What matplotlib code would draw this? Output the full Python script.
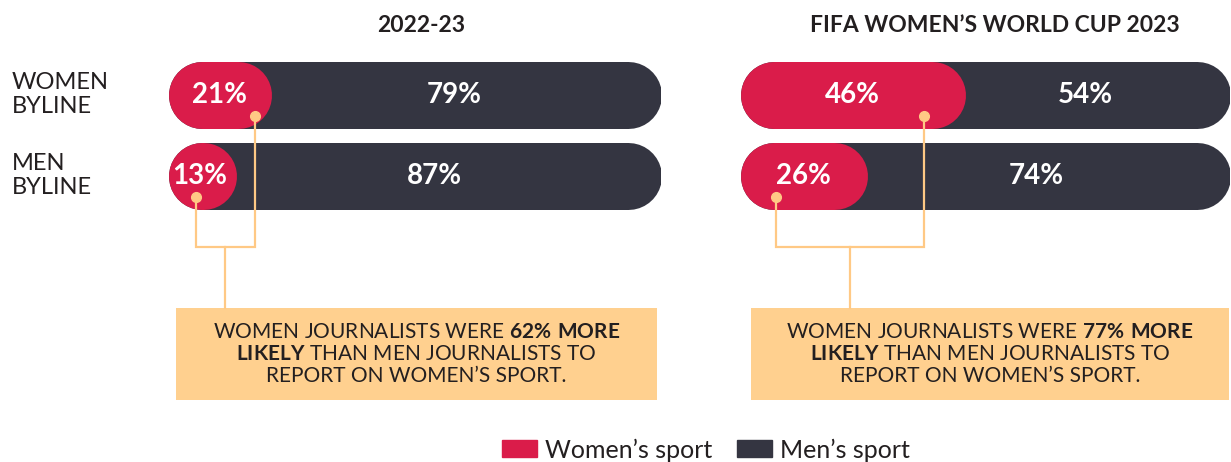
import numpy as np
import matplotlib
matplotlib.use("Agg")
import matplotlib.pyplot as plt
import matplotlib.transforms as mtransforms
from matplotlib.patches import Rectangle, Patch

plt.rcParams['font.family'] = ['Lato', 'DejaVu Sans']
plt.rcParams['mathtext.fontset'] = 'custom'
plt.rcParams['mathtext.bf'] = 'Lato:bold'
plt.rcParams['mathtext.rm'] = 'Lato'
plt.rcParams['path.simplify'] = False

# data
rows = ["WOMEN\nBYLINE", "MEN\nBYLINE"]
panels = ["2022-23", "FIFA WOMEN\u2019S WORLD CUP 2023"]
womens_sport = [[21, 13], [46, 26]]
mens_sport = [[79, 87], [54, 74]]
notes = [
    "WOMEN JOURNALISTS WERE $\\bf{62\\%\\ MORE}$\n$\\bf{LIKELY}$ THAN MEN JOURNALISTS TO\nREPORT ON WOMEN\u2019S SPORT.",
    "WOMEN JOURNALISTS WERE $\\bf{77\\%\\ MORE}$\n$\\bf{LIKELY}$ THAN MEN JOURNALISTS TO\nREPORT ON WOMEN\u2019S SPORT.",
]
# where the connector dots sit inside the red bars (percent units)
dot_x = [[17.6, 5.7], [37.6, 7.3]]

RED = "#DA1C4A"
DARK = "#343541"
BOX = "#FFD08F"
LINE = "#FFC985"
TXT = "#231F20"

W, H, DPI = 1231, 462, 100
fig = plt.figure(figsize=(W / DPI, H / DPI), dpi=DPI)

row_px = 81.0      # distance between bar centres
bar_px = 67.0      # bar thickness
top_px = 94.5      # centre of first bar from top
ax_top, ax_bot = 0, 420
lefts = [168, 740]
widths = [493, 490]
box_x = [(1.6, 99.2), (2.2, 99.8)]

axes = []
for p in range(2):
    ax = fig.add_axes([lefts[p] / W, 1 - ax_bot / H, widths[p] / W, (ax_bot - ax_top) / H])
    ax.set_xlim(0, 100)
    ax.set_ylim((ax_bot - top_px) / row_px, (ax_top - top_px) / row_px)
    ax.axis("off")
    axes.append(ax)

lw = bar_px * 72 / DPI
for p, ax in enumerate(axes):
    r = (bar_px / 2) / (widths[p] / 100)  # cap radius in percent units
    for i in range(len(rows)):
        ax.plot([r, 100 - r], [i, i], color=DARK, lw=lw, solid_capstyle="round", zorder=1)
        v = womens_sport[p][i]
        ax.plot([r, max(v - r, r + 0.4)], [i, i], color=RED, lw=lw, solid_capstyle="round", zorder=2)
        ax.text(v / 2, i, f"{v}%", color="white", fontsize=20, fontweight="bold",
                ha="center", va="center", zorder=3)
        m = mens_sport[p][i]
        ax.text(v + m / 2 - 2.5, i, f"{m}%", color="white", fontsize=20, fontweight="bold",
                ha="center", va="center", zorder=3)

    # connectors
    dy = 0.27
    yb = 1.88
    x0, x1 = dot_x[p]
    ax.plot([x0, x0, x1, x1], [0 + dy, yb, yb, 1 + dy],
            color=LINE, lw=1.6, zorder=4, solid_joinstyle="miter")
    ax.plot([(x0 + x1) / 2] * 2, [yb, 2.636], color=LINE, lw=1.6, zorder=4)
    ax.plot([x0, x1], [0 + dy, 1 + dy], ls="none", marker="o", ms=7, color=LINE, zorder=5)

    # note box
    bx0, bx1 = box_x[p]
    ax.add_patch(Rectangle((bx0, 2.636), bx1 - bx0, 3.77 - 2.636, color=BOX, lw=0, zorder=1))
    ax.text((bx0 + bx1) / 2, (2.636 + 3.77) / 2, notes[p], ha="center", va="center",
            fontsize=15, color=TXT, linespacing=1.12, zorder=3)

    # titles
    tx = [0.513, 0.52][p]
    ax.text(tx, (25 - top_px) / row_px, panels[p],
            transform=mtransforms.blended_transform_factory(ax.transAxes, ax.transData),
            ha="center", va="center", fontsize=16.5, fontweight="bold", color=TXT)

trans = mtransforms.blended_transform_factory(fig.transFigure, axes[0].transData)
for i, lab in enumerate(rows):
    axes[0].text(12 / W, i, lab, transform=trans, ha="left", va="center",
                 fontsize=17, color=TXT, linespacing=1.2)

handles = [Patch(color=RED, label="Women\u2019s sport"), Patch(color=DARK, label="Men\u2019s sport")]
fig.legend(handles=handles, loc="center", bbox_to_anchor=(706 / W, 1 - 450 / H), ncol=2,
           frameon=False, fontsize=18, handlelength=1.4, handleheight=0.67,
           handletextpad=0.3, columnspacing=1.0, labelcolor=TXT)

fig.savefig("out.png", dpi=DPI)
